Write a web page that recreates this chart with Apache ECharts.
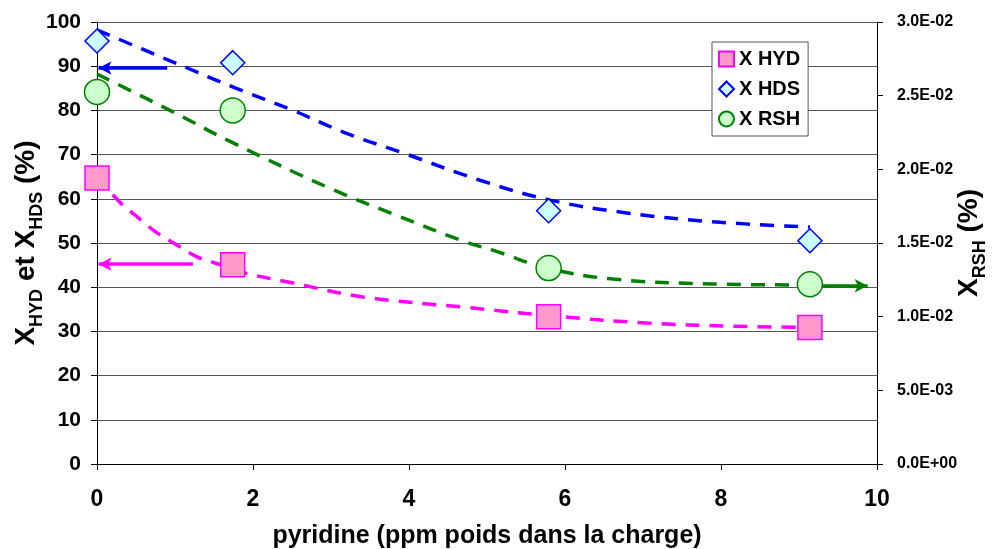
<!DOCTYPE html>
<html>
<head>
<meta charset="utf-8">
<script src="https://cdn.jsdelivr.net/npm/echarts@6/dist/echarts.min.js"></script>
<style>html,body{margin:0;padding:0;background:#fff}#c{width:996px;height:549px}</style>
</head>
<body>
<div id="c"></div>
<script>
// ---- data ----
const pyridine = [0, 1.74, 5.79, 9.14];
const xHYD = [64.7, 45.1, 33.3, 30.9];
const xHDS = [95.7, 90.8, 57.3, 50.5];
const xRSH = [0.02525, 0.02400, 0.01330, 0.01220];   // right axis

// dashed trend curves
const trendHDS = [[0, 98.2], [0.9, 91.5], [1.77, 85.1], [2.5, 80.1], [3.2, 74.8], [3.92, 70.4], [4.91, 64.2], [5.81, 59.7], [6.79, 56.8], [7.9, 54.8], [9.14, 53.6]];
const trendRSH = [[0, 0.02647], [1.0, 0.02383], [1.7, 0.02191], [2.99, 0.01870], [3.85, 0.01686], [4.69, 0.01514], [5.14, 0.01440], [5.77, 0.01330], [6.62, 0.01255], [7.9, 0.01222], [9.14, 0.01215]];
const trendHYD = [[0, 65.0], [0.29, 59.3], [0.53, 55.7], [0.77, 52.3], [1.03, 49.5], [1.29, 46.8], [1.64, 44.8], [1.9, 43.2], [2.5, 41.0], [3.41, 37.8], [4.69, 35.5], [5.97, 33.3], [7.05, 31.9], [8.12, 31.2], [9.14, 30.9]];

// arrows [xStart, xEnd, y]
const arrowHDS = [0.9, 0.02, 89.6];
const arrowHYD = [1.23, 0.02, 45.2];
const arrowRSH = [9.23, 9.88, 0.0121];

const xTicks = {min: 0, max: 10, interval: 2};
const leftTicks = {min: 0, max: 100, interval: 10};
const rightTicks = {min: 0, max: 0.03, interval: 0.005};

const legendNames = ['X HYD', 'X HDS', 'X RSH'];

function sci(v) {
  if (Math.abs(v) < 1e-12) return '0.0E+00';
  const parts = v.toExponential(1).split('e');
  const sign = parts[1][0];
  const d = parts[1].slice(1).padStart(2, '0');
  return parts[0] + 'E' + sign + d;
}

const FONT = 'Liberation Sans';
const chart = echarts.init(document.getElementById('c'), null, {renderer: 'canvas'});

function arrowLine(a, color) {
  return {
    silent: true,
    animation: false,
    symbol: ['none', 'arrow'],
    symbolSize: [10, 13],
    label: {show: false},
    lineStyle: {color: color, width: 3.5, type: 'solid'},
    emphasis: {disabled: true},
    data: [[{coord: [a[0], a[2]]}, {coord: [a[1], a[2]]}]]
  };
}

function trend(data, color, yIdx, arrow) {
  return {
    type: 'line', data: data, yAxisIndex: yIdx, smooth: 0.4, showSymbol: false, symbol: 'none',
    silent: true, z: 3,
    lineStyle: {color: color, width: 3.5, type: [14, 10]},
    markLine: arrowLine(arrow, color)
  };
}

const titleRich = {
  m: {fontFamily: FONT, fontWeight: 'bold', fontSize: 28, color: '#000', lineHeight: 34, verticalAlign: 'bottom'},
  s: {fontFamily: FONT, fontWeight: 'bold', fontSize: 18, color: '#000', lineHeight: 34, verticalAlign: 'bottom', padding: [0, 0, -6, 0]}
};

const option = {
  animation: false,
  backgroundColor: '#fff',
  textStyle: {fontFamily: FONT},
  grid: {left: 97, right: 119, top: 22, bottom: 85, containLabel: false, outerBoundsMode: 'none'},
  legend: {
    orient: 'vertical', left: 712, top: 42,
    data: legendNames,
    backgroundColor: '#fff', borderColor: '#555', borderWidth: 1,
    padding: [6, 8, 6, 6],
    itemWidth: 15, itemHeight: 15, itemGap: 8,
    textStyle: {fontFamily: FONT, fontWeight: 'bold', fontSize: 20, color: '#000', lineHeight: 22},
    selectedMode: false
  },
  xAxis: {
    type: 'value', min: xTicks.min, max: xTicks.max, interval: xTicks.interval,
    name: 'pyridine (ppm poids dans la charge)', nameLocation: 'middle', nameGap: 60,
    nameMoveOverlap: false,
    nameTextStyle: {fontFamily: FONT, fontWeight: 'bold', fontSize: 25, color: '#000'},
    axisLine: {onZero: false, lineStyle: {color: '#000', width: 1}},
    axisTick: {show: true, length: 6, lineStyle: {color: '#000'}},
    axisLabel: {fontFamily: FONT, fontWeight: 'bold', fontSize: 23, color: '#000', margin: 24},
    splitLine: {show: false}
  },
  yAxis: [{
    type: 'value', min: leftTicks.min, max: leftTicks.max, interval: leftTicks.interval,
    position: 'left',
    name: '{m|X}{s|HYD}{m| et X}{s|HDS}{m| (%)}', nameLocation: 'middle', nameGap: 57, nameRotate: 90,
    nameMoveOverlap: false,
    nameTextStyle: {rich: titleRich},
    axisLine: {show: true, lineStyle: {color: '#000', width: 1}},
    axisTick: {show: true, length: 6, lineStyle: {color: '#000'}},
    axisLabel: {fontFamily: FONT, fontWeight: 'bold', fontSize: 21, color: '#000', margin: 16},
    splitLine: {show: true, lineStyle: {color: '#555', width: 1}}
  }, {
    type: 'value', min: rightTicks.min, max: rightTicks.max, interval: rightTicks.interval,
    position: 'right',
    name: '{m|X}{s|RSH}{m| (%)}', nameLocation: 'middle', nameGap: 72, nameRotate: 90,
    nameMoveOverlap: false,
    nameTextStyle: {rich: titleRich},
    axisLine: {show: true, lineStyle: {color: '#000', width: 1}},
    axisTick: {show: true, length: 6, lineStyle: {color: '#000'}},
    axisLabel: {fontFamily: FONT, fontWeight: 'bold', fontSize: 16, color: '#000', margin: 20, formatter: sci},
    splitLine: {show: false}
  }],
  series: [
    trend(trendHYD, '#FF00FF', 0, arrowHYD),
    trend(trendHDS, '#0000FF', 0, arrowHDS),
    trend(trendRSH, '#008000', 1, arrowRSH),
    {
      name: 'X HYD', type: 'scatter', yAxisIndex: 0, z: 5,
      data: pyridine.map((x, i) => [x, xHYD[i]]),
      symbol: 'rect', symbolSize: 24,
      itemStyle: {color: '#FF99CC', borderColor: '#FF00FF', borderWidth: 1.5, opacity: 1}
    },
    {
      name: 'X HDS', type: 'scatter', yAxisIndex: 0, z: 5,
      data: pyridine.map((x, i) => [x, xHDS[i]]),
      symbol: 'diamond', symbolSize: 24,
      itemStyle: {color: '#CCFFFF', borderColor: '#0000FF', borderWidth: 1.5, opacity: 1}
    },
    {
      name: 'X RSH', type: 'scatter', yAxisIndex: 1, z: 5,
      data: pyridine.map((x, i) => [x, xRSH[i]]),
      symbol: 'circle', symbolSize: 25,
      itemStyle: {color: '#CCFFCC', borderColor: '#008000', borderWidth: 1.5, opacity: 1}
    }
  ]
};
chart.setOption(option);
</script>
</body>
</html>
